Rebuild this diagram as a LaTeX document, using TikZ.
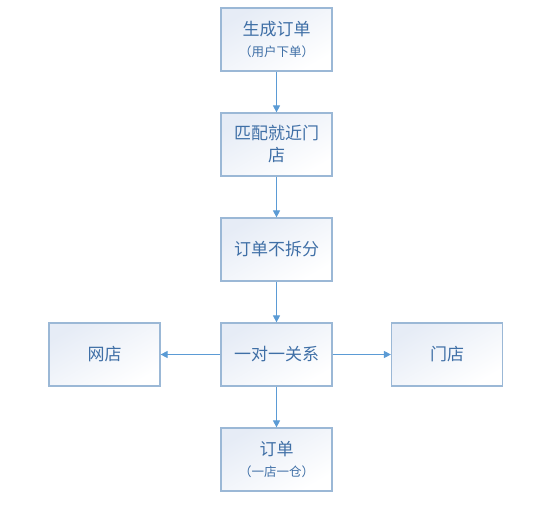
\documentclass[tikz,border=0pt]{standalone}
\usepackage{fontspec}
\setmainfont{Noto Sans CJK SC}
\usetikzlibrary{arrows.meta}
\definecolor{boxline}{HTML}{9BB8D6}
\definecolor{boxtxt}{HTML}{3F6FA6}
\definecolor{arr}{HTML}{5B9BD5}
\definecolor{fillA}{HTML}{E6ECF6}
\tikzset{
  x=1pt,y=-1pt,
  flowbox/.style={draw=boxline,line width=1.2pt,minimum width=111pt,minimum height=63pt,
    top color=fillA,bottom color=white,shading angle=30,inner sep=2pt,
    text=boxtxt,font=\fontsize{17}{22}\selectfont,align=center,text width=104pt},
  flow/.style={draw=arr,line width=0.9pt,-{Triangle[length=7pt,width=7pt]}}
}
\newcommand{\subtxt}[1]{{\fontsize{12.5}{15}\selectfont #1}}
\begin{document}
\begin{tikzpicture}
\useasboundingbox (0,0) rectangle (543,521);
\fill[white] (0,0) rectangle (543,521);
\node[flowbox] (a) at (276.5,39.5) {生成订单\\[-1pt]\subtxt{（用户下单）}};
\node[flowbox] (b) at (276.5,144.5) {匹配就近门\\店};
\node[flowbox] (c) at (276.5,249.5) {订单不拆分};
\node[flowbox] (d) at (276.5,354.5) {一对一关系};
\node[flowbox] (l) at (104.5,354.5) {网店};
\node[flowbox] (r) at (447,354.5) {门店};
\node[flowbox] (e) at (276.5,459.5) {订单\\[-1pt]\subtxt{（一店一仓）}};
\draw[flow] (a) -- (b);
\draw[flow] (b) -- (c);
\draw[flow] (c) -- (d);
\draw[flow] (d) -- (e);
\draw[flow] (d) -- (l);
\draw[flow] (d) -- (r);
\end{tikzpicture}
\end{document}
